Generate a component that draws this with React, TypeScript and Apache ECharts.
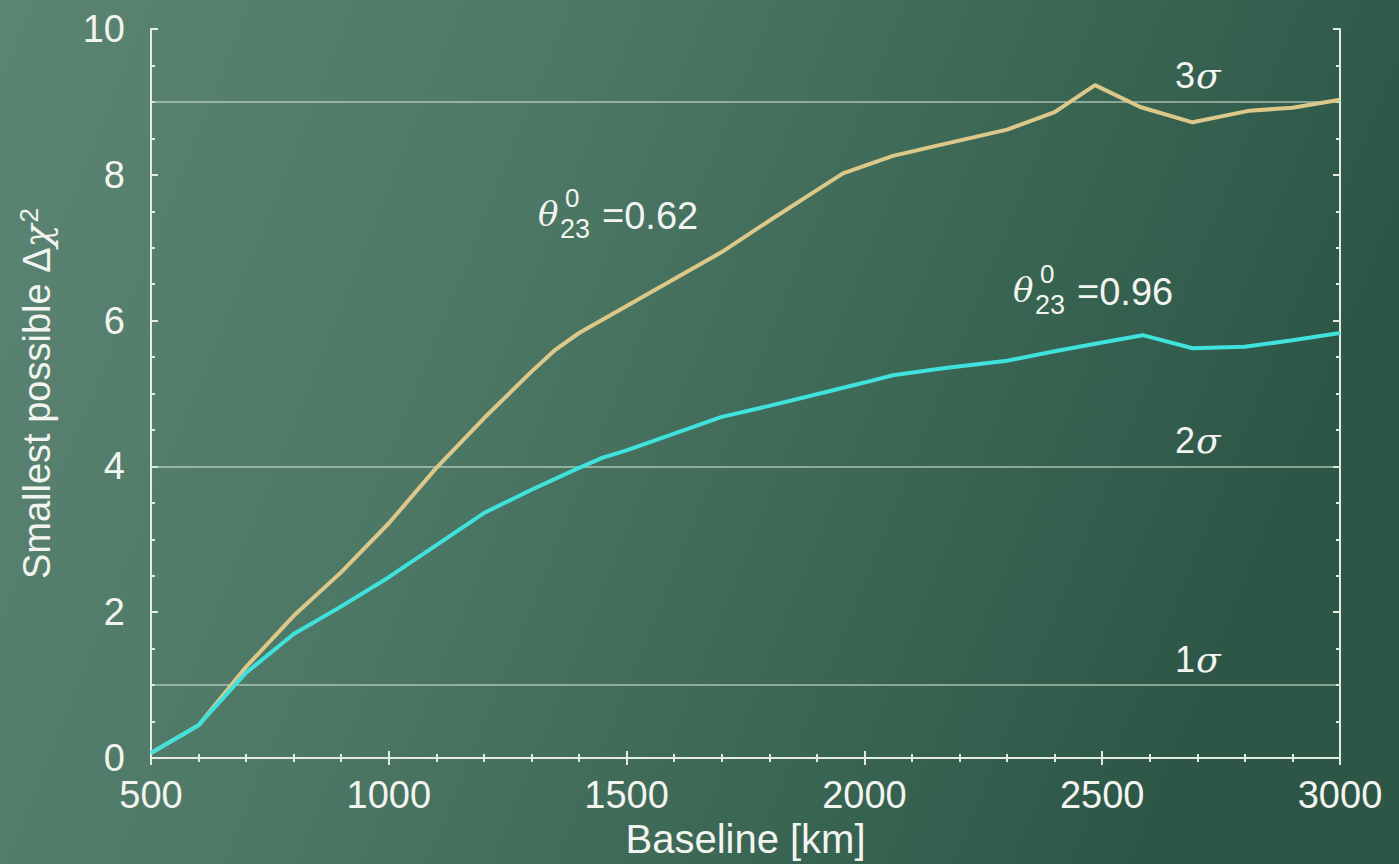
import React, { useEffect, useRef } from "react";
import * as echarts from "echarts";

const xTicks = [500, 1000, 1500, 2000, 2500, 3000];
const yTicks = [0, 2, 4, 6, 8, 10];

const baselineA = [500, 600, 700, 800, 900, 1000, 1100, 1200, 1300, 1350, 1400, 1500, 1600, 1700, 1800, 1900, 1955, 2060, 2160, 2300, 2400, 2485, 2580, 2690, 2810, 2900, 3000];
const chiA = [0.07, 0.45, 1.25, 1.95, 2.55, 3.22, 3.98, 4.66, 5.3, 5.6, 5.83, 6.2, 6.57, 6.94, 7.37, 7.79, 8.02, 8.26, 8.41, 8.62, 8.86, 9.23, 8.93, 8.72, 8.88, 8.92, 9.03];

const baselineB = [500, 600, 700, 800, 900, 1000, 1100, 1200, 1300, 1400, 1450, 1500, 1600, 1700, 1800, 1900, 2000, 2060, 2170, 2300, 2400, 2500, 2585, 2690, 2800, 2900, 3000];
const chiB = [0.07, 0.45, 1.17, 1.7, 2.08, 2.48, 2.92, 3.36, 3.68, 3.98, 4.12, 4.22, 4.45, 4.68, 4.83, 4.99, 5.15, 5.25, 5.35, 5.45, 5.58, 5.7, 5.8, 5.62, 5.64, 5.73, 5.83];

const sigmaLevels = [1, 4, 9];
const sigmaLabels = ["1", "2", "3"];

const WHITE = "#f2f4f0";
const SANS = "'Liberation Sans', Arial, sans-serif";
const SERIF = "'DejaVu Serif', 'Liberation Serif', serif";

export default function App() {
  const ref = useRef<HTMLDivElement>(null);
  useEffect(() => {
    const chart = echarts.init(ref.current!, undefined, { renderer: "svg" });
    const axisCommon = {
      type: "value",
      axisLine: { show: true, lineStyle: { color: "#e4ebe4", width: 2 } },
      axisTick: { show: true, inside: true, length: 7, lineStyle: { color: "#e4ebe4", width: 2 } },
      minorTick: { show: true, length: 4, lineStyle: { color: "#e4ebe4", width: 2 } },
      splitLine: { show: false },
    };
    const option: any = {
      animation: false,
      backgroundColor: {
        type: "linear",
        x: 0, y: 0, x2: 1, y2: 0.25,
        colorStops: [
          { offset: 0, color: "#5c8473" },
          { offset: 0.4, color: "#4d7866" },
          { offset: 0.75, color: "#3a6553" },
          { offset: 1, color: "#2d5646" },
        ],
      },
      grid: { left: 151, top: 29, right: 59, bottom: 106 },
      xAxis: [
        {
          ...axisCommon,
          min: 500, max: 3000, interval: 500,
          minorTick: { ...axisCommon.minorTick, splitNumber: 5 },
          axisLabel: { color: WHITE, fontSize: 38, fontFamily: SANS, margin: 18, formatter: (v: number) => String(v) },
          name: "Baseline [km]",
          nameLocation: "middle",
          nameGap: 60,
          nameTextStyle: { color: WHITE, fontSize: 40, fontFamily: SANS },
        },
        {
          ...axisCommon,
          position: "top",
          min: 500, max: 3000, interval: 500,
          minorTick: { ...axisCommon.minorTick, splitNumber: 5 },
          axisLabel: { show: false },
        },
      ],
      yAxis: [
        {
          ...axisCommon,
          min: 0, max: 10, interval: 2,
          minorTick: { ...axisCommon.minorTick, splitNumber: 4 },
          axisLabel: { color: WHITE, fontSize: 38, fontFamily: SANS, margin: 26, formatter: (v: number) => String(v) },
          name: "{a|Smallest possible Δ}{c|χ}{s|2}",
          nameLocation: "middle",
          nameGap: 93,
          nameRotate: 90,
          nameTextStyle: {
            color: WHITE,
            fontSize: 38,
            fontFamily: SANS,
            rich: {
              a: { color: WHITE, fontSize: 38, fontFamily: SANS },
              c: { color: WHITE, fontSize: 38, fontFamily: SERIF, fontStyle: "italic" },
              s: { color: WHITE, fontSize: 26, fontFamily: SANS, verticalAlign: "top", padding: [0, 0, 16, 2] },
            },
          },
        },
        {
          ...axisCommon,
          position: "right",
          min: 0, max: 10, interval: 2,
          minorTick: { ...axisCommon.minorTick, splitNumber: 4 },
          axisLabel: { show: false },
        },
      ],
      series: [
        {
          type: "line",
          data: baselineA.map((x, i) => [x, chiA[i]]),
          showSymbol: false,
          lineStyle: { color: "#dcc888", width: 4 },
          z: 5,
          markLine: {
            silent: true,
            symbol: "none",
            label: { show: false },
            lineStyle: { color: "rgba(205,225,212,0.55)", width: 2, type: "solid" },
            data: sigmaLevels.map((v) => ({ yAxis: v })),
            z: 1,
          },
        },
        {
          type: "line",
          data: baselineB.map((x, i) => [x, chiB[i]]),
          showSymbol: false,
          lineStyle: { color: "#3fe2dc", width: 4 },
          z: 6,
        },
      ],
    };
    chart.setOption(option);

    const toPx = (x: number, y: number) => chart.convertToPixel({ xAxisIndex: 0, yAxisIndex: 0 }, [x, y]) as number[];
    const thetaLabel = (x: number, y: number, value: string) => ({
      type: "group",
      x, y,
      children: [
        { type: "text", x: 0, y: 0, style: { text: "θ", fill: WHITE, font: `italic 34px ${SERIF}`, textVerticalAlign: "middle" } },
        { type: "text", x: 27, y: -16, style: { text: "0", fill: WHITE, font: `26px ${SANS}`, textVerticalAlign: "middle" } },
        { type: "text", x: 22, y: 15, style: { text: "23", fill: WHITE, font: `27px ${SANS}`, textVerticalAlign: "middle" } },
        { type: "text", x: 64, y: 2, style: { text: "=" + value, fill: WHITE, font: `38px ${SANS}`, textVerticalAlign: "middle" } },
      ],
    });
    const sigmaText = (lvl: number, label: string) => {
      const p = toPx(2640, lvl);
      return {
        type: "group",
        x: 1175, y: p[1] - 26,
        children: [
          { type: "text", x: 0, y: 0, style: { text: label, fill: WHITE, font: `36px ${SANS}`, textVerticalAlign: "middle" } },
          { type: "text", x: 21, y: 0, style: { text: "σ", fill: WHITE, font: `italic 36px ${SERIF}`, textVerticalAlign: "middle" } },
        ],
      };
    };
    chart.setOption({
      graphic: [
        thetaLabel(538, 214, "0.62"),
        thetaLabel(1013, 290, "0.96"),
        ...sigmaLevels.map((lvl, i) => sigmaText(lvl, sigmaLabels[i])),
      ],
    });
    return () => chart.dispose();
  }, []);
  return <div ref={ref} style={{ position: "fixed", left: 0, top: 0, width: 1399, height: 864 }} />;
}
